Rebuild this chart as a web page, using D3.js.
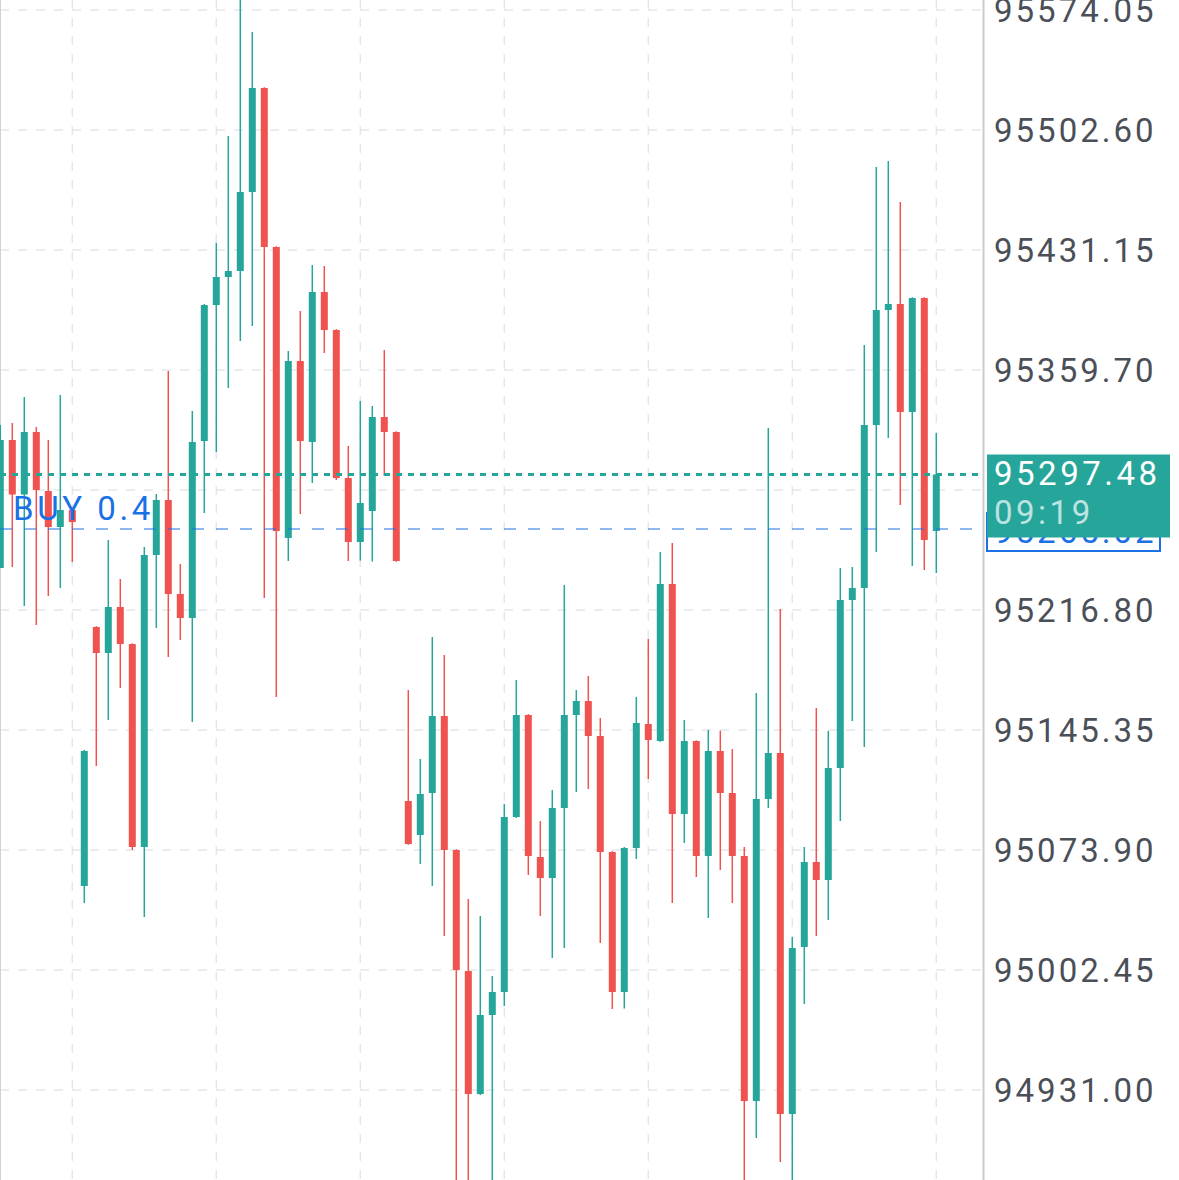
<!DOCTYPE html>
<html>
<head>
<meta charset="utf-8">
<script src="https://cdn.jsdelivr.net/npm/d3@7"></script>
<style>
  html, body { margin: 0; padding: 0; background: #fff; }
  svg { display: block; font-family: Roboto, "Noto Sans", sans-serif; }
</style>
</head>
<body>
<div id="chart"></div>
<script>
// candle values, oldest first
const open = [95241.80, 95318.01, 95285.56, 95322.78, 95287.64, 95266.21, 95276.34, 95052.47, 95206.67, 95191.19,
  95218.58, 95196.55, 95075.69, 95249.54, 95282.29, 95226.32, 95212.03, 95317.42, 95398.39, 95415.07,
  95418.64, 95465.68, 95527.60, 95432.94, 95259.66, 95365.05, 95316.82, 95406.14, 95383.51, 95295.39,
  95257.28, 95275.74, 95331.71, 95322.78, 95103.07, 95082.83, 95107.84, 95153.68, 95073.90, 95001.84,
  94928.61, 94975.65, 94989.34, 95093.55, 95154.28, 95069.73, 95057.23, 95098.91, 95154.28, 95162.61,
  95141.77, 95072.71, 94989.34, 95075.09, 95148.92, 95138.79, 95232.27, 95095.33, 95138.79, 95070.33,
  95132.84, 95107.84, 95070.33, 94924.44, 95104.27, 95131.65, 94916.70, 95016.14, 95066.75, 95056.04,
  95122.72, 95222.75, 95229.89, 95326.94, 95395.42, 95398.99, 95334.68, 95402.56, 95263.83]
const high = [95326.94, 95328.13, 95343.61, 95325.75, 95318.01, 95344.80, 95277.53, 95133.50, 95207.20, 95258.47,
  95235.25, 95197.00, 95254.30, 95285.86, 95359.09, 95244.18, 95335.28, 95399.00, 95435.32, 95499.02,
  95581.19, 95560.95, 95528.10, 95433.40, 95371.00, 95394.82, 95422.22, 95421.62, 95384.00, 95314.44,
  95341.23, 95338.26, 95371.60, 95323.20, 95169.16, 95128.08, 95200.72, 95190.00, 95074.40, 95044.72,
  95034.59, 94998.87, 95101.29, 95175.12, 95154.80, 95091.17, 95109.62, 95231.68, 95169.16, 95177.50,
  95152.49, 95073.20, 95075.69, 95164.99, 95199.53, 95251.33, 95256.69, 95151.30, 95139.20, 95145.35,
  95144.90, 95134.03, 95075.69, 95167.38, 95325.16, 95217.39, 95022.09, 95075.69, 95158.45, 95144.75,
  95241.80, 95242.39, 95374.58, 95480.57, 95484.14, 95459.73, 95403.00, 95403.00, 95322.18]
const low = [95241.80, 95242.40, 95219.18, 95207.86, 95225.13, 95229.90, 95245.37, 95042.33, 95123.91, 95151.30,
  95170.35, 95073.90, 95034.00, 95206.08, 95188.81, 95198.93, 95150.11, 95274.55, 95310.87, 95348.97,
  95376.96, 95385.89, 95223.94, 95164.99, 95245.97, 95273.95, 95292.41, 95369.81, 95294.20, 95245.97,
  95246.20, 95245.60, 95296.58, 95245.50, 95077.00, 95065.56, 95052.47, 95022.68, 94874.43, 94870.20,
  94928.01, 94872.60, 94981.01, 95093.00, 95059.01, 95034.59, 95009.59, 95015.54, 95108.43, 95110.21,
  95018.52, 94979.22, 94979.50, 95068.54, 95116.17, 95138.30, 95042.33, 95078.07, 95057.82, 95033.40,
  95061.99, 95042.33, 94877.41, 94902.41, 95098.91, 94888.12, 94876.80, 94982.20, 95022.68, 95032.21,
  95091.17, 95150.70, 95135.23, 95251.33, 95319.20, 95279.31, 95242.99, 95240.61, 95238.82]
const close = [95318.01, 95285.56, 95322.78, 95288.24, 95266.21, 95276.34, 95269.19, 95132.84, 95191.19, 95218.58,
  95196.55, 95075.69, 95249.54, 95282.29, 95226.32, 95212.03, 95316.82, 95398.39, 95415.07, 95418.64,
  95465.68, 95527.60, 95432.94, 95263.83, 95365.05, 95317.42, 95406.14, 95383.51, 95295.39, 95257.28,
  95280.50, 95331.71, 95322.78, 95245.97, 95077.47, 95107.24, 95153.68, 95073.90, 95002.44, 94928.61,
  94975.65, 94989.34, 95093.55, 95154.28, 95070.33, 95057.23, 95098.91, 95154.28, 95162.61, 95141.77,
  95072.71, 94989.34, 95075.09, 95149.52, 95139.39, 95232.27, 95095.33, 95138.79, 95070.33, 95132.84,
  95107.84, 95070.33, 94924.44, 95104.27, 95131.65, 94916.70, 95015.54, 95066.75, 95056.04, 95122.72,
  95222.75, 95229.89, 95326.94, 95395.42, 95398.99, 95334.68, 95402.56, 95258.47, 95297.48]

const priceTicks = [95574.05, 95502.60, 95431.15, 95359.70, 95288.25, 95216.80, 95145.35, 95073.90, 95002.45, 94931.00]
const gridBars = [6, 18, 30, 42, 54, 66, 78]

const lastPrice = 95297.48
const countdown = "09:19"
const buyPrice = 95265.02
const buyLabel = "BUY 0.4"

const width = 1179, height = 1180
const axisX = 984

const up = "#26a69a", down = "#ef5350", blue = "#1a70e6", gridColor = "#e2e7ec"

const svg = d3.select("#chart")
  .append("svg")
  .attr("width", width)
  .attr("height", height)

const bars = d3.range(open.length)

const xPositionScale = d3.scaleLinear().domain([0, bars.length - 1]).range([0.3, 936.3])
const yPositionScale = d3.scaleLinear().domain([94931.00, 95574.05]).range([1090, 10])

// grid
svg.append("g").selectAll("line")
  .data(priceTicks)
  .join("line")
  .attr("x1", 0).attr("x2", axisX + 6)
  .attr("y1", d => yPositionScale(d)).attr("y2", d => yPositionScale(d))
  .attr("stroke", gridColor).attr("stroke-width", 1.5)
  .attr("stroke-dasharray", "9,9")

svg.append("g").selectAll("line")
  .data(gridBars)
  .join("line")
  .attr("x1", d => xPositionScale(d)).attr("x2", d => xPositionScale(d))
  .attr("y1", 0).attr("y2", height)
  .attr("stroke", gridColor).attr("stroke-width", 1.5)
  .attr("stroke-dasharray", "9,9")

// left border
svg.append("line")
  .attr("x1", 0.5).attr("x2", 0.5).attr("y1", 0).attr("y2", height)
  .attr("stroke", "#d2d2d2").attr("stroke-width", 1)

// candles
const color = i => close[i] >= open[i] ? up : down

const candles = svg.append("g")
candles.selectAll("line")
  .data(bars)
  .join("line")
  .attr("x1", i => xPositionScale(i)).attr("x2", i => xPositionScale(i))
  .attr("y1", i => yPositionScale(high[i])).attr("y2", i => yPositionScale(low[i]))
  .attr("stroke", color).attr("stroke-width", 1.5)

candles.selectAll("rect")
  .data(bars)
  .join("rect")
  .attr("x", i => xPositionScale(i) - 3.5)
  .attr("width", 7)
  .attr("y", i => yPositionScale(Math.max(open[i], close[i])))
  .attr("height", i => Math.max(1, Math.abs(yPositionScale(open[i]) - yPositionScale(close[i]))))
  .attr("fill", color)

// position line
svg.append("line")
  .attr("x1", 0).attr("x2", axisX - 12)
  .attr("y1", yPositionScale(buyPrice)).attr("y2", yPositionScale(buyPrice))
  .attr("stroke", blue).attr("stroke-width", 1)
  .attr("stroke-dasharray", "12,12")

svg.append("text")
  .attr("x", 13)
  .attr("y", yPositionScale(buyPrice) - 9)
  .attr("fill", blue)
  .style("font-size", "33px")
  .style("letter-spacing", "3.6px")
  .text(buyLabel)

// last price line
svg.append("line")
  .attr("x1", 0).attr("x2", axisX)
  .attr("y1", yPositionScale(lastPrice)).attr("y2", yPositionScale(lastPrice))
  .attr("stroke", up).attr("stroke-width", 3)
  .attr("stroke-dasharray", "6,6")

// price axis
const yAxis = d3.axisRight(yPositionScale)
  .tickValues(priceTicks)
  .tickFormat(d3.format(".2f"))
  .tickSize(0)
  .tickPadding(10)

const axisG = svg.append("g")
  .attr("class", "axis y-axis")
  .attr("transform", "translate(" + axisX + ",0)")
  .call(yAxis)

axisG.select(".domain").remove()
axisG.selectAll("text")
  .attr("dy", "0.36em")
  .attr("fill", "#4b4f58")
  .style("font-size", "33px")
  .style("font-family", "Roboto, sans-serif")
  .style("letter-spacing", "3px")

svg.append("line")
  .attr("x1", axisX - 0.5).attr("x2", axisX - 0.5).attr("y1", 0).attr("y2", height)
  .attr("stroke", "#cbcbcb").attr("stroke-width", 2)

// buy price label (sits under the last price label)
const buyY = yPositionScale(buyPrice)
svg.append("rect")
  .attr("x", 987).attr("y", buyY - 16).attr("width", 173).attr("height", 38)
  .attr("fill", "#fff").attr("stroke", blue).attr("stroke-width", 2)
svg.append("text")
  .attr("x", 994).attr("y", buyY + 14)
  .attr("fill", blue)
  .style("font-size", "33px")
  .style("letter-spacing", "3px")
  .text(d3.format(".2f")(buyPrice))

// last price label
const lastY = yPositionScale(lastPrice)
svg.append("rect")
  .attr("x", 987).attr("y", lastY - 20).attr("width", 183).attr("height", 83)
  .attr("fill", up)
svg.append("text")
  .attr("x", 994).attr("y", lastY + 11)
  .attr("fill", "#fff")
  .style("font-size", "33px")
  .style("letter-spacing", "3.5px")
  .text(d3.format(".2f")(lastPrice))
svg.append("text")
  .attr("x", 994).attr("y", lastY + 50)
  .attr("fill", "#fff").attr("fill-opacity", 0.7)
  .style("font-size", "33px")
  .style("letter-spacing", "3.5px")
  .text(countdown)
</script>
</body>
</html>
